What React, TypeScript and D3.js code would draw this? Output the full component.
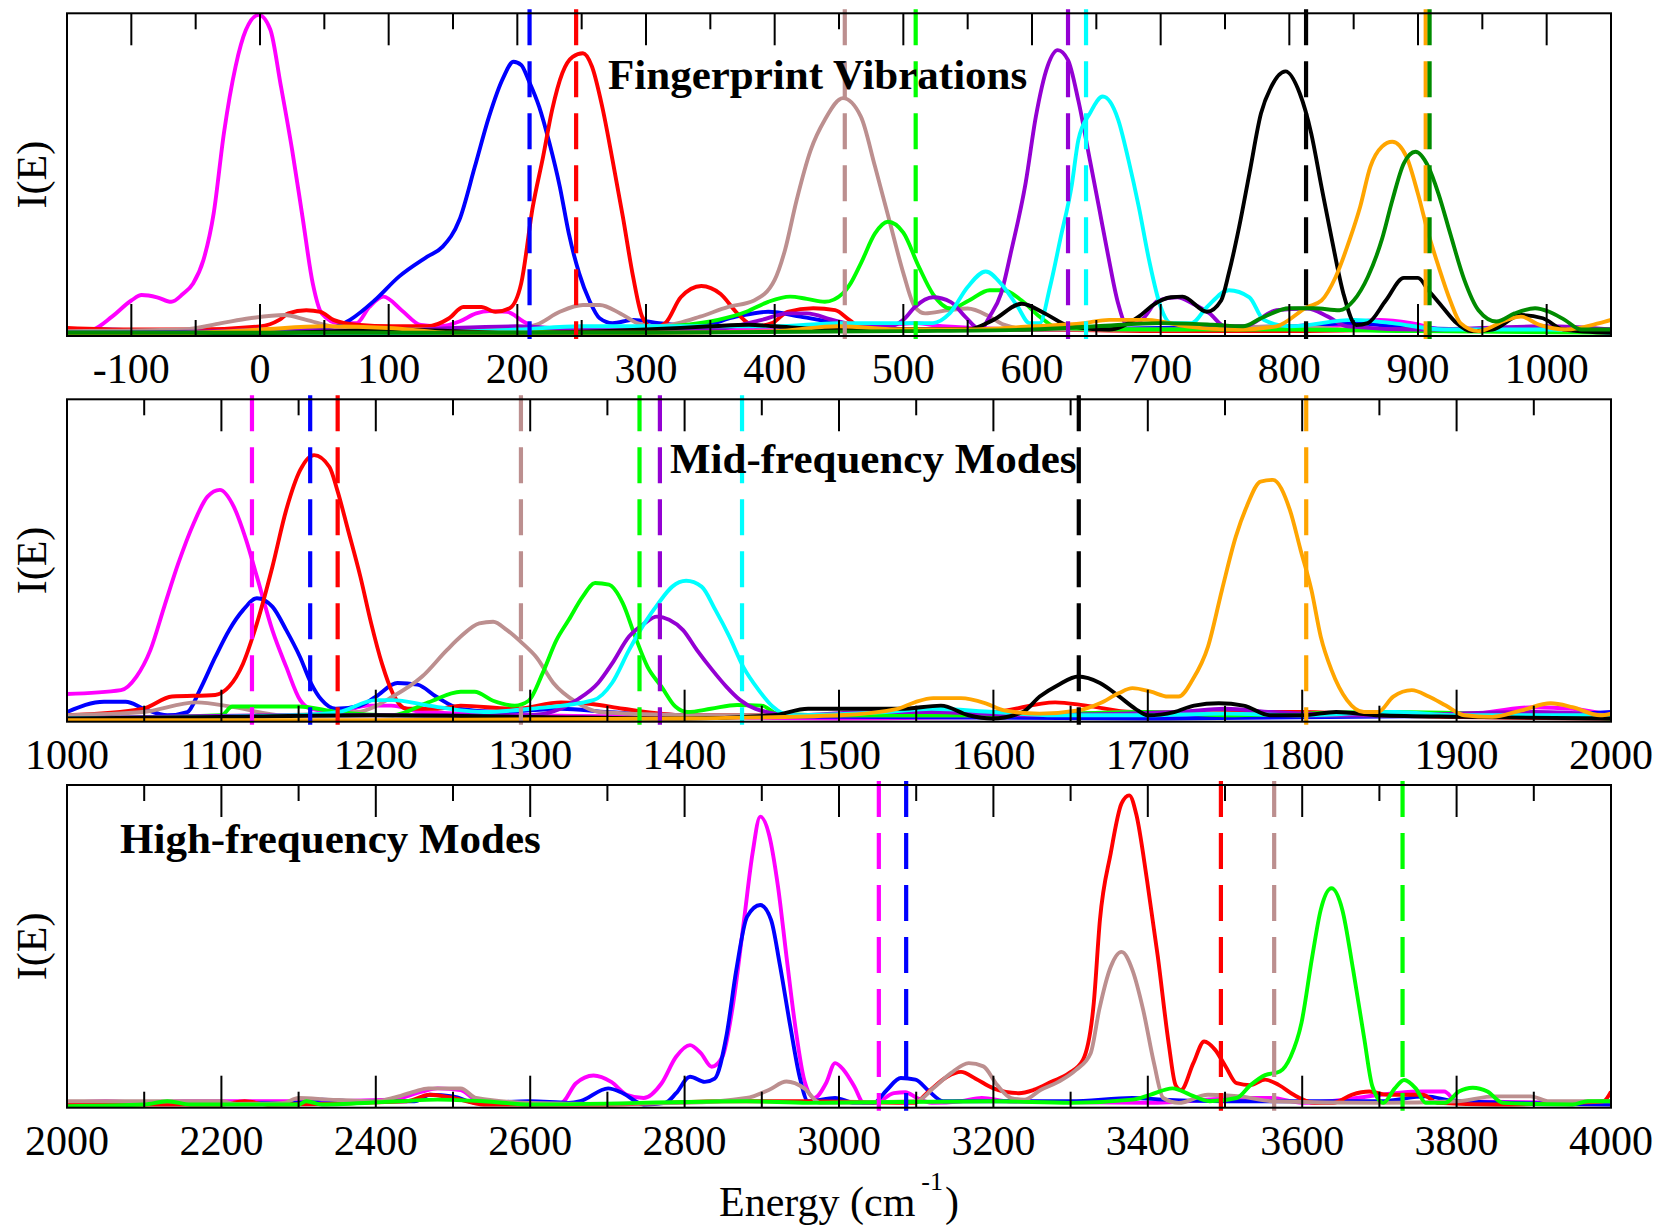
import React from "react";
import * as d3 from "d3";

// ---------- colours (xmgrace palette) ----------
const C = {
  magenta: "#ff00ff",
  blue: "#0000ff",
  red: "#ff0000",
  brown: "#bc8f8f",
  green: "#00ff00",
  violet: "#9400d3",
  cyan: "#00ffff",
  black: "#000000",
  orange: "#ffa500",
  green4: "#008b00",
};

// ---------- panel 1 : Fingerprint Vibrations (E, I) ----------
const p1Magenta = [[-150,0.01],[-130,0.02],[-115,0.06],[-100,0.11],[-92,0.127],[-80,0.12],[-69,0.106],[-60,0.13],[-52,0.163],[-44,0.235],[-36,0.38],[-28,0.63],[-19,0.835],[-11,0.948],[-1,0.995],[8,0.95],[16,0.78],[25,0.576],[33,0.37],[41,0.163],[48,0.07],[61,0.04],[75,0.04],[85,0.09],[96,0.122],[110,0.08],[125,0.034],[140,0.03],[155,0.045],[168,0.07],[178,0.077],[192,0.075],[205,0.044],[220,0.02],[260,0.015],[300,0.02],[400,0.02],[480,0.03],[510,0.04],[530,0.03],[600,0.02],[700,0.02],[830,0.03],[870,0.05],[895,0.04],[920,0.02],[1050,0.015]];
const p1Blue = [[-150,0.02],[-120,0.02],[-80,0.015],[0,0.015],[50,0.02],[60,0.03],[70,0.05],[89,0.11],[108,0.184],[130,0.246],[142,0.277],[155,0.36],[167,0.525],[178,0.68],[189,0.8],[197,0.85],[203,0.84],[209,0.79],[217,0.71],[225,0.597],[233,0.463],[240,0.318],[248,0.195],[256,0.11],[264,0.055],[274,0.04],[290,0.05],[310,0.04],[340,0.03],[370,0.06],[395,0.075],[420,0.06],[445,0.04],[460,0.02],[530,0.02],[600,0.02],[700,0.025],[800,0.03],[850,0.04],[880,0.03],[950,0.02],[1050,0.02]];
const p1Red = [[-150,0.025],[-100,0.02],[-50,0.02],[0,0.03],[15,0.05],[22,0.07],[36,0.08],[47,0.075],[57,0.05],[75,0.035],[103,0.03],[130,0.03],[147,0.055],[158,0.09],[172,0.09],[183,0.075],[194,0.086],[203,0.163],[212,0.4],[220,0.555],[227,0.7],[235,0.815],[243,0.865],[251,0.876],[258,0.835],[266,0.71],[274,0.545],[282,0.37],[290,0.183],[297,0.06],[305,0.025],[315,0.04],[327,0.12],[343,0.155],[358,0.13],[371,0.07],[385,0.03],[398,0.04],[410,0.075],[430,0.086],[447,0.08],[458,0.05],[470,0.02],[600,0.02],[700,0.015],[800,0.015],[900,0.02],[1050,0.015]];
const p1Brown = [[-150,0.015],[-60,0.02],[-30,0.04],[-8,0.055],[19,0.065],[36,0.05],[55,0.03],[80,0.02],[150,0.02],[200,0.025],[215,0.035],[233,0.075],[251,0.096],[264,0.096],[280,0.07],[293,0.04],[305,0.03],[325,0.04],[342,0.06],[364,0.09],[384,0.11],[400,0.174],[408,0.266],[417,0.42],[428,0.576],[439,0.67],[453,0.737],[467,0.68],[478,0.525],[489,0.36],[500,0.195],[509,0.09],[517,0.07],[535,0.08],[550,0.085],[567,0.06],[578,0.035],[600,0.02],[700,0.02],[800,0.03],[850,0.02],[1050,0.015]];
const p1Green = [[-150,0.01],[0,0.01],[100,0.01],[200,0.015],[280,0.02],[320,0.03],[356,0.05],[378,0.075],[395,0.106],[412,0.122],[425,0.115],[439,0.106],[453,0.132],[459,0.163],[467,0.225],[478,0.318],[488,0.354],[500,0.32],[512,0.215],[523,0.13],[537,0.085],[551,0.11],[567,0.142],[578,0.142],[592,0.11],[606,0.06],[620,0.025],[700,0.02],[800,0.02],[900,0.015],[1050,0.01]];
const p1Violet = [[-150,0.01],[-30,0.015],[0,0.02],[100,0.015],[150,0.025],[200,0.03],[250,0.02],[350,0.02],[390,0.05],[410,0.07],[425,0.07],[445,0.05],[470,0.03],[490,0.03],[500,0.05],[509,0.09],[523,0.12],[537,0.105],[548,0.06],[560,0.02],[567,0.06],[576,0.132],[584,0.266],[595,0.473],[603,0.68],[612,0.835],[620,0.886],[628,0.855],[636,0.73],[645,0.545],[652,0.4],[659,0.253],[667,0.1],[673,0.04],[685,0.05],[698,0.11],[713,0.12],[725,0.1],[738,0.07],[750,0.03],[765,0.03],[790,0.08],[814,0.085],[830,0.06],[845,0.03],[900,0.02],[1000,0.03],[1050,0.02]];
const p1Cyan = [[-150,0.01],[100,0.01],[200,0.02],[250,0.03],[300,0.03],[400,0.03],[450,0.04],[500,0.04],[523,0.04],[536,0.07],[550,0.152],[564,0.2],[578,0.152],[589,0.09],[598,0.04],[606,0.04],[614,0.152],[622,0.3],[631,0.47],[636,0.607],[645,0.69],[655,0.742],[667,0.67],[675,0.545],[683,0.4],[691,0.235],[700,0.09],[708,0.04],[724,0.04],[736,0.09],[753,0.142],[769,0.12],[780,0.05],[800,0.03],[850,0.05],[880,0.04],[920,0.02],[1000,0.02],[1050,0.01]];
const p1Black = [[-150,0.01],[-100,0.01],[0,0.01],[60,0.015],[100,0.02],[200,0.01],[300,0.02],[350,0.03],[380,0.035],[400,0.03],[450,0.02],[500,0.02],[550,0.02],[570,0.05],[592,0.1],[610,0.07],[630,0.03],[660,0.02],[683,0.06],[694,0.096],[708,0.12],[717,0.122],[736,0.075],[747,0.11],[753,0.195],[761,0.338],[769,0.504],[778,0.69],[786,0.773],[797,0.82],[808,0.753],[817,0.628],[825,0.462],[833,0.3],[842,0.132],[852,0.034],[861,0.04],[875,0.11],[889,0.18],[900,0.18],[908,0.142],[919,0.09],[930,0.04],[941,0.015],[958,0.02],[980,0.065],[997,0.055],[1013,0.02],[1050,0.01]];
const p1Orange = [[-150,0.005],[-50,0.01],[0,0.02],[50,0.03],[100,0.025],[150,0.01],[250,0.01],[300,0.01],[400,0.015],[450,0.03],[500,0.02],[550,0.02],[600,0.03],[640,0.04],[660,0.05],[690,0.05],[720,0.03],[760,0.02],[790,0.03],[814,0.09],[825,0.11],[836,0.183],[847,0.3],[855,0.4],[863,0.525],[872,0.587],[880,0.602],[891,0.556],[900,0.44],[908,0.318],[916,0.215],[925,0.11],[933,0.04],[947,0.015],[969,0.05],[980,0.06],[994,0.035],[1015,0.02],[1041,0.04],[1050,0.05]];
const p1Green4 = [[-150,0.01],[0,0.01],[300,0.01],[500,0.015],[600,0.02],[650,0.03],[700,0.04],[740,0.035],[764,0.03],[778,0.055],[800,0.086],[819,0.086],[839,0.08],[850,0.11],[861,0.183],[872,0.3],[880,0.42],[889,0.535],[898,0.571],[908,0.525],[916,0.44],[925,0.318],[936,0.174],[947,0.08],[961,0.045],[975,0.07],[991,0.086],[1002,0.075],[1014,0.05],[1027,0.02],[1050,0.02]];

// ---------- panel 2 : Mid-frequency Modes ----------
const p2Magenta = [[1000,0.086],[1035,0.098],[1045,0.14],[1054,0.222],[1063,0.357],[1072,0.49],[1082,0.615],[1091,0.698],[1099,0.719],[1108,0.667],[1116,0.564],[1123,0.45],[1133,0.284],[1142,0.17],[1151,0.067],[1158,0.04],[1175,0.03],[1195,0.05],[1210,0.05],[1230,0.03],[1300,0.02],[1400,0.015],[1500,0.01],[1700,0.02],[1900,0.02],[1950,0.045],[1975,0.04],[2000,0.02]];
const p2Blue = [[1000,0.03],[1024,0.062],[1038,0.062],[1050,0.04],[1065,0.02],[1078,0.03],[1086,0.098],[1096,0.2],[1105,0.284],[1114,0.346],[1123,0.383],[1133,0.357],[1142,0.284],[1151,0.2],[1158,0.12],[1165,0.067],[1174,0.04],[1190,0.05],[1200,0.078],[1214,0.12],[1227,0.115],[1239,0.078],[1255,0.04],[1280,0.03],[1320,0.04],[1350,0.03],[1400,0.02],[1500,0.015],[1700,0.01],[1950,0.02],[2000,0.03]];
const p2Red = [[1000,0.02],[1049,0.04],[1068,0.078],[1096,0.083],[1105,0.109],[1114,0.18],[1123,0.305],[1133,0.48],[1142,0.657],[1151,0.78],[1160,0.827],[1170,0.79],[1175,0.719],[1182,0.595],[1190,0.45],[1197,0.305],[1204,0.18],[1211,0.088],[1220,0.04],[1240,0.04],[1255,0.05],[1290,0.04],[1320,0.06],[1340,0.055],[1360,0.04],[1400,0.02],[1500,0.02],[1600,0.03],[1640,0.06],[1660,0.05],[1690,0.03],[1800,0.03],[1850,0.02],[2000,0.01]];
const p2Brown = [[1000,0.02],[1049,0.03],[1084,0.06],[1108,0.045],[1140,0.02],[1188,0.03],[1211,0.078],[1230,0.14],[1246,0.222],[1255,0.264],[1267,0.305],[1276,0.31],[1285,0.284],[1295,0.243],[1304,0.2],[1315,0.12],[1330,0.06],[1345,0.03],[1400,0.02],[1500,0.02],[1600,0.02],[1700,0.03],[1800,0.02],[2000,0.02]];
const p2Green = [[1000,0.01],[1100,0.02],[1107,0.047],[1150,0.047],[1175,0.03],[1211,0.02],[1234,0.06],[1255,0.093],[1264,0.093],[1276,0.065],[1290,0.05],[1299,0.065],[1308,0.15],[1317,0.253],[1325,0.316],[1334,0.388],[1342,0.43],[1351,0.425],[1360,0.367],[1368,0.264],[1376,0.17],[1385,0.109],[1394,0.047],[1402,0.03],[1417,0.04],[1434,0.052],[1450,0.05],[1460,0.025],[1500,0.02],[1600,0.02],[1700,0.03],[1750,0.02],[1850,0.03],[2000,0.01]];
const p2Violet = [[1000,0.01],[1150,0.02],[1300,0.02],[1330,0.067],[1344,0.12],[1353,0.18],[1364,0.264],[1374,0.305],[1382,0.326],[1390,0.316],[1399,0.284],[1408,0.222],[1418,0.16],[1427,0.109],[1436,0.067],[1446,0.04],[1470,0.02],[1520,0.03],[1560,0.03],[1620,0.02],[1720,0.03],[1750,0.04],[1780,0.03],[1850,0.02],[1950,0.03],[2000,0.02]];
const p2Cyan = [[1000,0.01],[1150,0.02],[1176,0.03],[1200,0.067],[1211,0.067],[1234,0.05],[1270,0.03],[1300,0.04],[1341,0.067],[1353,0.12],[1364,0.222],[1374,0.305],[1383,0.367],[1392,0.419],[1401,0.437],[1411,0.419],[1420,0.346],[1429,0.264],[1438,0.17],[1448,0.098],[1457,0.047],[1468,0.02],[1530,0.03],[1560,0.04],[1600,0.03],[1640,0.02],[1700,0.02],[1750,0.025],[1800,0.02],[1860,0.03],[1900,0.02],[2000,0.02]];
const p2Black = [[1000,0.01],[1100,0.015],[1200,0.02],[1300,0.015],[1400,0.01],[1457,0.02],[1480,0.04],[1540,0.04],[1566,0.05],[1584,0.02],[1599,0.01],[1619,0.03],[1630,0.078],[1642,0.114],[1655,0.14],[1669,0.12],[1681,0.08],[1692,0.04],[1700,0.02],[1717,0.03],[1730,0.05],[1746,0.057],[1762,0.05],[1779,0.02],[1800,0.02],[1822,0.03],[1850,0.02],[1903,0.015],[2000,0.01]];
const p2Orange = [[1000,0.005],[1200,0.005],[1400,0.01],[1500,0.02],[1538,0.04],[1549,0.06],[1561,0.073],[1579,0.073],[1595,0.057],[1607,0.035],[1630,0.025],[1655,0.035],[1669,0.057],[1681,0.088],[1690,0.104],[1702,0.093],[1713,0.078],[1720,0.078],[1729,0.13],[1739,0.233],[1748,0.408],[1757,0.574],[1764,0.667],[1773,0.745],[1781,0.75],[1792,0.657],[1799,0.532],[1806,0.408],[1812,0.264],[1819,0.16],[1829,0.067],[1840,0.03],[1849,0.03],[1859,0.078],[1871,0.098],[1882,0.078],[1893,0.05],[1905,0.02],[1923,0.015],[1942,0.035],[1961,0.057],[1975,0.045],[1993,0.02],[2000,0.025]];

// ---------- panel 3 : High-frequency Modes ----------
const p3Magenta = [[2000,0.015],[2050,0.02],[2100,0.015],[2150,0.02],[2300,0.02],[2420,0.025],[2460,0.05],[2480,0.06],[2510,0.055],[2530,0.025],[2600,0.015],[2640,0.015],[2659,0.075],[2682,0.1],[2705,0.08],[2725,0.04],[2747,0.03],[2770,0.075],[2789,0.158],[2807,0.194],[2821,0.169],[2835,0.127],[2849,0.158],[2863,0.324],[2877,0.582],[2888,0.788],[2898,0.902],[2909,0.85],[2921,0.685],[2932,0.468],[2944,0.241],[2955,0.086],[2968,0.03],[2983,0.075],[2995,0.138],[3006,0.117],[3020,0.065],[3032,0.015],[3047,0.015],[3071,0.045],[3086,0.048],[3101,0.03],[3120,0.015],[3158,0.02],[3185,0.03],[3220,0.02],[3400,0.015],[3530,0.03],[3560,0.03],[3600,0.015],[3756,0.05],[3784,0.05],[3800,0.02],[4000,0.015]];
const p3Blue = [[2000,0.015],[2300,0.015],[2330,0.025],[2370,0.02],[2450,0.02],[2470,0.04],[2500,0.035],[2530,0.015],[2600,0.02],[2650,0.015],[2665,0.02],[2701,0.06],[2720,0.045],[2747,0.01],[2775,0.015],[2789,0.045],[2807,0.096],[2826,0.08],[2839,0.09],[2854,0.22],[2867,0.427],[2881,0.592],[2898,0.628],[2912,0.582],[2923,0.448],[2937,0.251],[2949,0.096],[2960,0.02],[2995,0.03],[3020,0.015],[3045,0.015],[3062,0.055],[3080,0.092],[3099,0.087],[3117,0.05],[3135,0.02],[3300,0.02],[3380,0.03],[3420,0.025],[3500,0.02],[3700,0.02],[3760,0.035],[3800,0.02],[4000,0.01]];
const p3Red = [[2000,0.01],[2200,0.01],[2230,0.02],[2260,0.01],[2440,0.02],[2470,0.04],[2500,0.03],[2540,0.01],[2700,0.01],[2850,0.02],[2950,0.02],[3098,0.015],[3116,0.05],[3140,0.096],[3158,0.111],[3177,0.09],[3200,0.06],[3233,0.045],[3252,0.055],[3275,0.08],[3298,0.107],[3316,0.148],[3330,0.324],[3338,0.582],[3352,0.789],[3366,0.943],[3376,0.968],[3385,0.91],[3399,0.705],[3413,0.468],[3427,0.2],[3436,0.07],[3443,0.055],[3459,0.138],[3473,0.205],[3487,0.18],[3501,0.127],[3515,0.076],[3533,0.07],[3552,0.087],[3570,0.07],[3589,0.04],[3616,0.015],[3640,0.015],[3664,0.04],[3687,0.05],[3710,0.04],[3756,0.04],[3775,0.015],[3850,0.01],[3950,0.015],[3990,0.02],[4000,0.05]];
const p3Brown = [[2000,0.02],[2100,0.02],[2200,0.02],[2220,0.012],[2280,0.015],[2300,0.03],[2340,0.025],[2400,0.02],[2422,0.03],[2450,0.05],[2468,0.06],[2510,0.06],[2530,0.03],[2600,0.015],[2700,0.012],[2800,0.015],[2880,0.03],[2909,0.055],[2932,0.081],[2955,0.06],[2975,0.015],[3100,0.02],[3122,0.06],[3145,0.107],[3168,0.138],[3187,0.128],[3205,0.07],[3223,0.03],[3240,0.025],[3261,0.055],[3284,0.08],[3307,0.117],[3326,0.169],[3337,0.303],[3352,0.437],[3366,0.483],[3380,0.427],[3394,0.303],[3408,0.138],[3420,0.03],[3440,0.015],[3478,0.04],[3520,0.035],[3560,0.02],[3700,0.015],[3800,0.02],[3850,0.035],[3896,0.035],[3920,0.02],[4000,0.02]];
const p3Green = [[2000,0.005],[2100,0.01],[2130,0.02],[2160,0.01],[2300,0.01],[2310,0.02],[2330,0.01],[2430,0.02],[2480,0.025],[2540,0.02],[2600,0.01],[2880,0.02],[2960,0.015],[3200,0.02],[3300,0.015],[3380,0.025],[3403,0.04],[3432,0.06],[3455,0.04],[3480,0.02],[3515,0.03],[3533,0.07],[3552,0.101],[3571,0.112],[3585,0.158],[3599,0.262],[3613,0.468],[3624,0.613],[3638,0.68],[3652,0.613],[3666,0.427],[3680,0.22],[3691,0.065],[3705,0.015],[3720,0.06],[3732,0.086],[3747,0.06],[3760,0.015],[3785,0.015],[3803,0.05],[3821,0.062],[3840,0.05],[3860,0.015],[3950,0.01],[3970,0.02],[4000,0.02]];

// ---------- dashed reference energies ----------
const p1Dashed = [["blue",209.5],["red",245.7],["brown",454.5],["green",509.6],["violet",628],["cyan",642],["black",813],["orange",906],["green4",909]];
const p2Dashed = [["magenta",1119.8],["blue",1157.5],["red",1175.3],["brown",1294],["green",1370.8],["violet",1384],["cyan",1437.2],["black",1655.3],["orange",1802.6]];
const p3Dashed = [["magenta",3051.6],["blue",3087],["red",3494.7],["brown",3563.7],["green",3730]];

// ---------- tick values ----------
const p1Major = [-100,0,100,200,300,400,500,600,700,800,900,1000];
const p1Minor = [-50,50,150,250,350,450,550,650,750,850,950];
const p2Major = [1000,1100,1200,1300,1400,1500,1600,1700,1800,1900,2000];
const p2Minor = [1050,1150,1250,1350,1450,1550,1650,1750,1850,1950];
const p3Major = [2000,2200,2400,2600,2800,3000,3200,3400,3600,3800,4000];
const p3Minor = [2100,2300,2500,2700,2900,3100,3300,3500,3700,3900];

const titles = ["Fingerprint Vibrations", "Mid-frequency Modes", "High-frequency Modes"];

const LEFT = 67;
const RIGHT = 1611;
const FONT = "'Liberation Serif', 'Times New Roman', Times, serif";

const panels = [
  {
    top: 13.3, bottom: 336, domain: [-150, 1050], major: p1Major, minor: p1Minor,
    series: [["magenta",p1Magenta],["blue",p1Blue],["red",p1Red],["brown",p1Brown],["green",p1Green],["violet",p1Violet],["cyan",p1Cyan],["black",p1Black],["orange",p1Orange],["green4",p1Green4]],
    dashed: p1Dashed, title: titles[0], titleX: 608, titleY: 89,
  },
  {
    top: 399.3, bottom: 721.7, domain: [1000, 2000], major: p2Major, minor: p2Minor,
    series: [["magenta",p2Magenta],["blue",p2Blue],["red",p2Red],["brown",p2Brown],["green",p2Green],["violet",p2Violet],["cyan",p2Cyan],["black",p2Black],["orange",p2Orange]],
    dashed: p2Dashed, title: titles[1], titleX: 670, titleY: 473,
  },
  {
    top: 785, bottom: 1107.7, domain: [2000, 4000], major: p3Major, minor: p3Minor,
    series: [["magenta",p3Magenta],["blue",p3Blue],["red",p3Red],["brown",p3Brown],["green",p3Green]],
    dashed: p3Dashed, title: titles[2], titleX: 120, titleY: 853,
  },
];

function Panel({ p, idx }: { p: any; idx: number }) {
  const x = d3.scaleLinear().domain(p.domain).range([LEFT, RIGHT]);
  const y = d3.scaleLinear().domain([0, 1]).range([p.bottom, p.top]);
  const line = d3
    .line<number[]>()
    .x((d) => x(d[0]))
    .y((d) => y(d[1]))
    .curve(d3.curveMonotoneX);
  const clipId = `clip${idx}`;
  const MAJ = 32;
  const MIN = 16;
  return (
    <g>
      <defs>
        <clipPath id={clipId}>
          <rect x={LEFT} y={p.top - 4} width={RIGHT - LEFT} height={p.bottom - p.top + 4} />
        </clipPath>
      </defs>
      <g clipPath={`url(#${clipId})`}>
        {p.series.map(([c, data]: any, i: number) => (
          <path key={i} d={line(data) || ""} fill="none" stroke={(C as any)[c]} strokeWidth={3.9} strokeLinejoin="round" />
        ))}
      </g>
      {p.dashed.map(([c, e]: any, i: number) => (
        <line key={i} x1={x(e)} x2={x(e)} y1={p.top - 4} y2={p.bottom + 3} stroke={(C as any)[c]} strokeWidth={4.2} strokeDasharray="36 16" />
      ))}
      {/* frame */}
      <rect x={LEFT} y={p.top} width={RIGHT - LEFT} height={p.bottom - p.top} fill="none" stroke="#000" strokeWidth={2} />
      {p.major.map((t: number) => (
        <g key={"M" + t}>
          <line x1={x(t)} x2={x(t)} y1={p.bottom} y2={p.bottom - MAJ} stroke="#000" strokeWidth={2} />
          <line x1={x(t)} x2={x(t)} y1={p.top} y2={p.top + MAJ} stroke="#000" strokeWidth={2} />
          <text x={x(t)} y={p.bottom + 47} textAnchor="middle" fontFamily={FONT} fontSize={42} fill="#000">
            {t < 0 ? "-" + Math.abs(t) : String(t)}
          </text>
        </g>
      ))}
      {p.minor.map((t: number) => (
        <g key={"m" + t}>
          <line x1={x(t)} x2={x(t)} y1={p.bottom} y2={p.bottom - MIN} stroke="#000" strokeWidth={2} />
          <line x1={x(t)} x2={x(t)} y1={p.top} y2={p.top + MIN} stroke="#000" strokeWidth={2} />
        </g>
      ))}
      <text x={p.titleX} y={p.titleY} fontFamily={FONT} fontWeight="bold" fontSize={43} fill="#000">
        {p.title}
      </text>
      <text
        transform={`translate(46, ${(p.top + p.bottom) / 2}) rotate(-90)`}
        textAnchor="middle"
        fontFamily={FONT}
        fontSize={42}
        fill="#000"
      >
        I(E)
      </text>
    </g>
  );
}

export default function App() {
  return (
    <div style={{ position: "absolute", left: 0, top: 0 }}>
      <svg width={1662} height={1229} viewBox="0 0 1662 1229" style={{ display: "block", background: "#fff" }}>
        <rect x={0} y={0} width={1662} height={1229} fill="#fff" />
        {panels.map((p, i) => (
          <Panel key={i} p={p} idx={i} />
        ))}
        <text x={719} y={1216} fontFamily={FONT} fontSize={42} fill="#000">
          Energy (cm
          <tspan dx={6} dy={-26} fontSize={26}>-1</tspan>
          <tspan dx={2} dy={26}>)</tspan>
        </text>
      </svg>
    </div>
  );
}
